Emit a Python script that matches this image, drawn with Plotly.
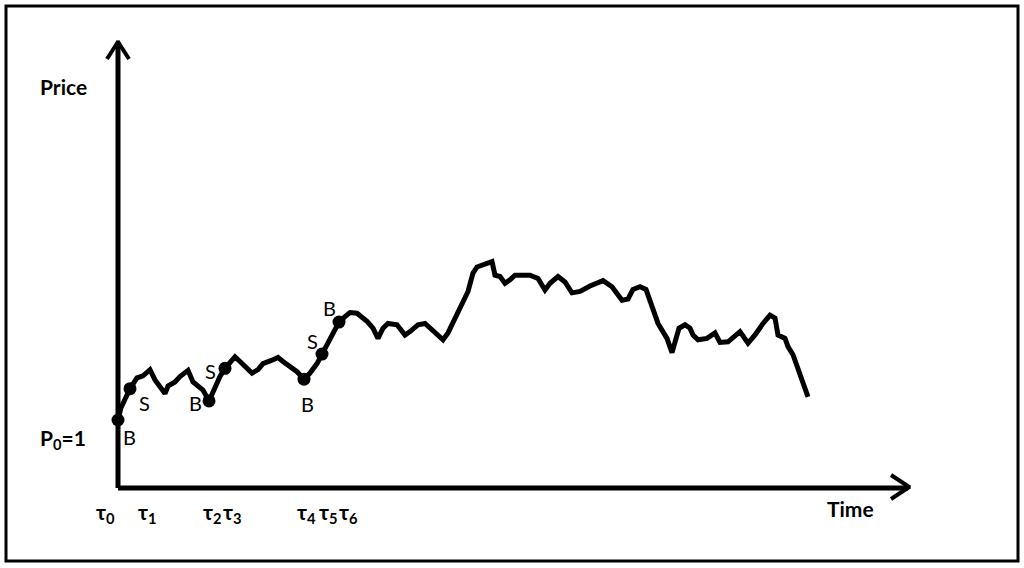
import plotly.graph_objects as go

# price path (time in arbitrary steps, price with P0 = 1)
t = [0, 3, 12, 19, 25, 32, 37, 47, 50, 57, 62, 70, 75, 80, 85, 91, 97, 102, 107, 112,
     117, 122, 129, 134, 140, 145, 154, 160, 165, 172, 179, 186, 192, 199, 204, 210, 215, 221, 227, 232,
     239, 249, 255, 260, 265, 270, 279, 284, 287, 292, 300, 307, 314, 320, 325, 330, 337, 344, 350, 355,
     359, 374, 377, 382, 387, 392, 397, 412, 420, 427, 432, 440, 447, 454, 462, 472, 485, 494, 500, 504,
     510, 515, 522, 528, 534, 540, 549, 554, 561, 567, 572, 575, 580, 589, 597, 602, 610, 622, 630, 637,
     645, 652, 657, 660, 667, 670, 675, 682, 690]
price = [1.00, 1.18, 1.46, 1.62, 1.65, 1.74, 1.59, 1.39, 1.50, 1.56, 1.64, 1.73, 1.56, 1.49, 1.44, 1.28, 1.49, 1.64, 1.76, 1.86,
         1.93, 1.86, 1.76, 1.69, 1.74, 1.83, 1.88, 1.92, 1.86, 1.78, 1.71, 1.60, 1.69, 1.83, 1.97, 2.13, 2.28, 2.44, 2.52, 2.58,
         2.57, 2.45, 2.35, 2.20, 2.35, 2.42, 2.40, 2.32, 2.25, 2.30, 2.40, 2.42, 2.32, 2.24, 2.18, 2.28, 2.50, 2.72, 2.89, 3.16,
         3.25, 3.33, 3.13, 3.11, 3.01, 3.06, 3.13, 3.13, 3.08, 2.91, 3.01, 3.11, 3.03, 2.87, 2.89, 2.97, 3.05, 2.96, 2.84, 2.76,
         2.78, 2.92, 2.96, 2.92, 2.67, 2.42, 2.20, 1.99, 2.35, 2.40, 2.35, 2.25, 2.18, 2.20, 2.28, 2.14, 2.15, 2.30, 2.13, 2.25,
         2.42, 2.54, 2.50, 2.25, 2.20, 2.08, 1.96, 1.66, 1.34]

# trades (buy / sell points)
trade_t = [0, 12, 91, 107, 186, 204, 221]
trade_p = [1.00, 1.46, 1.28, 1.76, 1.60, 1.97, 2.44]
trade_lbl = ["B", "S", "B", "S", "B", "S", "B"]

tau_lbl = ["τ<sub>0</sub>", "τ<sub>1</sub>", "τ<sub>2</sub>", "τ<sub>3</sub>",
           "τ<sub>4</sub>", "τ<sub>5</sub>", "τ<sub>6</sub>"]

# pixel layout helpers
W, H = 1024, 568
ox, oy = 118, 488       # origin in pixels
ppy = 68                # pixels per price unit
xr = [-ox, W - ox]
yr = [-(H - oy) / ppy, oy / ppy]

def X(px):
    return px - ox

def Y(py):
    return (oy - py) / ppy

fig = go.Figure()
fig.add_trace(go.Scatter(x=t, y=price, mode="lines",
                         line=dict(color="black", width=5), hoverinfo="skip"))
fig.add_trace(go.Scatter(x=trade_t, y=trade_p, mode="markers",
                         marker=dict(color="black", size=13), hoverinfo="skip"))

# axes with arrow heads
blk = dict(color="black", width=5)
shapes = [
    dict(type="line", x0=0, y0=0, x1=0, y1=Y(42), line=blk),
    dict(type="line", x0=0, y0=0, x1=X(908), y1=0, line=blk),
    dict(type="line", x0=X(107), y0=Y(59), x1=X(118.5), y1=Y(41), line=dict(color="black", width=4)),
    dict(type="line", x0=X(129), y0=Y(59), x1=X(117.5), y1=Y(41), line=dict(color="black", width=4)),
    dict(type="line", x0=X(891), y0=Y(475), x1=X(910), y1=Y(487.5), line=dict(color="black", width=4)),
    dict(type="line", x0=X(891), y0=Y(499), x1=X(910), y1=Y(486.5), line=dict(color="black", width=4)),
    dict(type="rect", xref="paper", yref="paper", x0=6 / W, y0=1 - 561 / H, x1=1018 / W, y1=1 - 6 / H,
         line=dict(color="black", width=3)),
]

bold = dict(family="Lato", size=21, color="black")
taufont = dict(family="Lato", size=21, color="black")
norm = dict(family="Lato", size=20, color="black")
ann = [
    dict(x=X(63), y=Y(86), text="<b>Price</b>", font=bold),
    dict(x=X(63), y=Y(439), text="<b>P<sub>0</sub>=1</b>", font=bold),
    dict(x=X(850), y=Y(508), text="<b>Time</b>", font=bold),
]
lbl_px = [(129, 437), (144, 403), (195, 403), (210, 371), (307, 404), (312, 341), (329, 308)]
for (px, py), s in zip(lbl_px, trade_lbl):
    ann.append(dict(x=X(px), y=Y(py), text=s, font=norm))
tau_px = [105, 147, 212, 232, 306, 328, 348]
for px, s in zip(tau_px, tau_lbl):
    ann.append(dict(x=X(px), y=Y(513), text="<b>" + s + "</b>", font=taufont))
for a in ann:
    a.update(showarrow=False, xanchor="center", yanchor="middle")

fig.update_layout(
    width=W, height=H,
    margin=dict(l=0, r=0, t=0, b=0),
    paper_bgcolor="white", plot_bgcolor="white",
    showlegend=False,
    xaxis=dict(range=xr, visible=False, fixedrange=True),
    yaxis=dict(range=yr, visible=False, fixedrange=True),
    shapes=shapes, annotations=ann,
)
fig.write_html("out.html", config={"displayModeBar": False},
               post_script="document.body.style.margin='0';")
